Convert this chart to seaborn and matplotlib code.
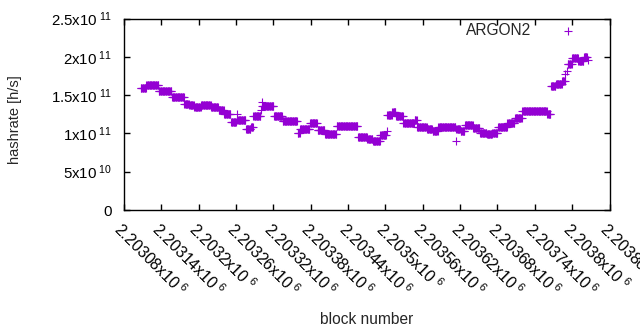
import numpy as np
import pandas as pd
import matplotlib
matplotlib.use("Agg")
import matplotlib.pyplot as plt
import seaborn as sns
from matplotlib.ticker import MultipleLocator, FuncFormatter

# hashrate read off the chart as runs of blocks with the same value
# block numbers are offsets from block_base, rates in units of 1e11 h/s
block_base = 2203000
run_first = [107, 116, 136, 157, 177, 185, 193, 204, 220, 232, 241, 252, 261, 262,
             276, 284, 288, 300, 301, 302, 321, 335, 359, 363, 379, 391, 403, 422,
             456, 471, 480, 492, 502, 503, 511, 517, 529, 547, 551, 567, 576, 585,
             613, 614, 621, 628, 641, 652, 663, 672, 681, 696, 708, 720, 760, 766,
             774, 784, 789, 791, 793, 800, 810, 819, 825]
run_last = [115, 135, 156, 176, 184, 192, 203, 219, 231, 240, 251, 260, 261, 275,
            283, 287, 299, 300, 301, 320, 334, 358, 362, 378, 390, 402, 421, 455,
            470, 479, 491, 501, 502, 510, 516, 528, 546, 550, 566, 575, 584, 612,
            613, 620, 627, 640, 651, 662, 671, 680, 695, 707, 719, 759, 765, 773,
            783, 788, 789, 791, 799, 809, 818, 824, 825]
run_rate = [1.589, 1.628, 1.55, 1.471, 1.39, 1.375, 1.341, 1.367, 1.341, 1.302,
            1.253, 1.145, 1.25, 1.179, 1.054, 1.087, 1.223, 1.30, 1.414, 1.354,
            1.223, 1.158, 1.01, 1.054, 1.132, 1.040, 0.988, 1.097, 0.953, 0.931,
            0.905, 0.979, 1.03, 1.236, 1.279, 1.227, 1.140, 1.17, 1.087, 1.06,
            1.027, 1.08, 0.897, 1.06, 1.03, 1.114, 1.067, 1.009, 0.988, 1.009,
            1.08, 1.132, 1.207, 1.292, 1.249, 1.623, 1.641, 1.68, 1.78, 1.82,
            1.902, 1.988, 1.949, 1.993, 1.955]

blocks = np.concatenate([np.arange(a, b + 1) for a, b in zip(run_first, run_last)]) + block_base
counts = [b - a + 1 for a, b in zip(run_first, run_last)]
rates = np.repeat(run_rate, counts) * 1e11
df = pd.DataFrame({"block": blocks, "hashrate": rates})

sns.set_style("ticks")
plt.rcParams["font.family"] = ["Liberation Sans", "DejaVu Sans"]
plt.rcParams["mathtext.fontset"] = "custom"
plt.rcParams["mathtext.rm"] = "Liberation Sans"
plt.rcParams["mathtext.it"] = "Liberation Sans:italic"

fig = plt.figure(figsize=(6.4, 3.3), dpi=100)
ax = fig.add_axes([124 / 640, 1 - 210 / 330, (609.5 - 124) / 640, (210 - 18.5) / 330])

sns.scatterplot(data=df, x="block", y="hashrate", marker="+", s=30,
                color="#9400d3", linewidth=0.8, label="ARGON2", ax=ax)

ax.set_xlim(2203080, 2203860)
ax.set_ylim(0, 2.5e11)
ax.xaxis.set_major_locator(MultipleLocator(60))
ax.yaxis.set_major_locator(MultipleLocator(5e10))


def xfmt(v, pos):
    return "%gx10$^{\\ 6}$" % (v / 1e6)


def yfmt(v, pos):
    if v <= 0:
        return "0"
    e = int(np.floor(np.log10(v)))
    return "%gx10$^{\\ %d}$" % (round(v / 10 ** e, 3), e)


ax.xaxis.set_major_formatter(FuncFormatter(xfmt))
ax.yaxis.set_major_formatter(FuncFormatter(yfmt))
ax.tick_params(direction="in", top=True, right=True, length=4, width=1,
               colors="black")
ax.tick_params(axis="y", pad=8.5, labelsize=10.8)
ax.tick_params(axis="x", pad=6.5, labelsize=11.5)
for lab in ax.get_xticklabels():
    lab.set_rotation(-45)
    lab.set_ha("left")
    lab.set_va("top")
    lab.set_rotation_mode("anchor")
for sp in ax.spines.values():
    sp.set_visible(True)
    sp.set_linewidth(1)
    sp.set_color("black")

ax.set_xlabel("block number", fontsize=11.2)
ax.xaxis.set_label_coords(0.5, (210 - 312) / 191.5)
ax.set_ylabel("hashrate [h/s]", fontsize=10.5)
ax.yaxis.set_label_coords((22 - 124) / 485.5, 0.47)
ax.legend(loc="upper right", bbox_to_anchor=(582 / 640, 1 - 17 / 330),
          bbox_transform=fig.transFigure, frameon=False, markerfirst=False,
          fontsize=11.2, handlelength=1.0, handletextpad=1.87, borderaxespad=0,
          borderpad=0.4)

fig.savefig("out.png", dpi=100)
